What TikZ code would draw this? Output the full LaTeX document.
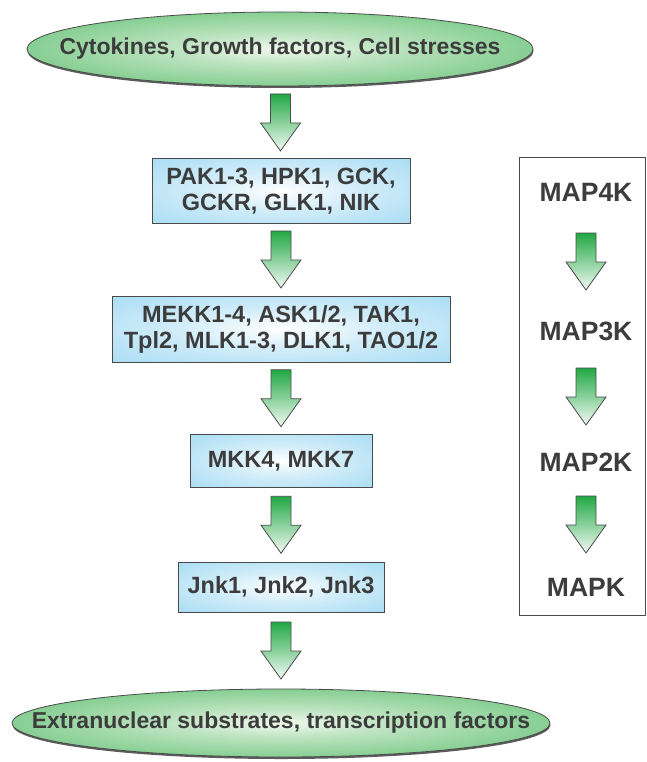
\documentclass[tikz,border=0pt]{standalone}
\usepackage{fontspec}
\setmainfont{Liberation Sans}
\usetikzlibrary{shapes.geometric,calc,shadows}
\definecolor{txt}{HTML}{3C3C3C}
\definecolor{egreen}{HTML}{2AAA44}
\definecolor{ecenter}{HTML}{F0F8EC}
\definecolor{bblue}{HTML}{8ED2F0}
\definecolor{agreen}{HTML}{22A844}
\definecolor{edge}{HTML}{4A4A4A}
\pgfdeclareradialshading{ellshade}{\pgfpoint{0bp}{0bp}}{color(0bp)=(ecenter); color(10bp)=(ecenter!75!egreen); color(50bp)=(egreen); color(75bp)=(egreen)}
\pgfdeclareradialshading{boxshade}{\pgfpoint{0bp}{0bp}}{color(0bp)=(white); color(15bp)=(white!60!bblue); color(50bp)=(bblue); color(75bp)=(bblue)}
\newcommand\blockarrow[2]{%
  \path[fatarrow] let \p3=($(#1.south)!0.5!(#2.north)$) in
    (\x3-10pt,\y3+28.5pt) -- (\x3+10pt,\y3+28.5pt) -- (\x3+10pt,\y3-0.5pt)
    -- (\x3+20pt,\y3-0.5pt) -- (\x3,\y3-28.5pt) -- (\x3-20pt,\y3-0.5pt)
    -- (\x3-10pt,\y3-0.5pt) -- cycle;}
\begin{document}
\begin{tikzpicture}[x=1pt,y=-1pt,
  every node/.style={text=txt,font=\fontsize{23.5}{26}\selectfont\bfseries,align=center,inner sep=0pt},
  ell/.style={ellipse,draw=edge,line width=0.8pt,shade,shading=ellshade,
    drop shadow={shadow xshift=0.5pt,shadow yshift=-2pt,fill=edge,opacity=0.9}},
  elltext/.style={font=\fontsize{23}{26}\selectfont\bfseries},
  kbox/.style={rectangle,draw=edge,line width=1pt,shade,shading=boxshade},
  fatarrow/.style={draw=edge,line width=0.8pt,line join=miter,top color=agreen,bottom color=white!94!agreen},
  lvl/.style={font=\fontsize{26.5}{28}\selectfont\bfseries,minimum height=30pt}]
\useasboundingbox (0,0) rectangle (646,762);
\node[ell,minimum width=506pt,minimum height=74pt] (top) at (280,49) {};
\node[elltext] (toptext) at (top) {Cytokines, Growth factors, Cell stresses};
\node[kbox,minimum width=258pt,minimum height=64pt] (b1) at (281,191) {PAK1-3, HPK1, GCK,\\GCKR, GLK1, NIK};
\node[kbox,minimum width=338pt,minimum height=66pt] (b2) at (281,329) {MEKK1-4, ASK1/2, TAK1,\\Tpl2, MLK1-3, DLK1, TAO1/2};
\node[kbox,minimum width=182pt,minimum height=53pt] (b3) at (281,461) {MKK4, MKK7};
\node[kbox,minimum width=206pt,minimum height=50pt] (b4) at (281,587) {Jnk1, Jnk2, Jnk3};
\node[ell,minimum width=538pt,minimum height=68pt] (bot) at (281,723) {};
\node[elltext] (bottext) at (bot) {Extranuclear substrates, transcription factors};
\blockarrow{top}{b1}
\blockarrow{b1}{b2}
\blockarrow{b2}{b3}
\blockarrow{b3}{b4}
\blockarrow{b4}{bot}
\node[draw=edge,line width=0.9pt,minimum width=126pt,minimum height=458pt] (frame) at (582,386) {};
\node[lvl] (r1) at (586,192) {MAP4K};
\node[lvl] (r2) at (586,331) {MAP3K};
\node[lvl] (r3) at (586,462) {MAP2K};
\node[lvl] (r4) at (586,587) {MAPK};
\blockarrow{r1}{r2}
\blockarrow{r2}{r3}
\blockarrow{r3}{r4}
\end{tikzpicture}
\end{document}
